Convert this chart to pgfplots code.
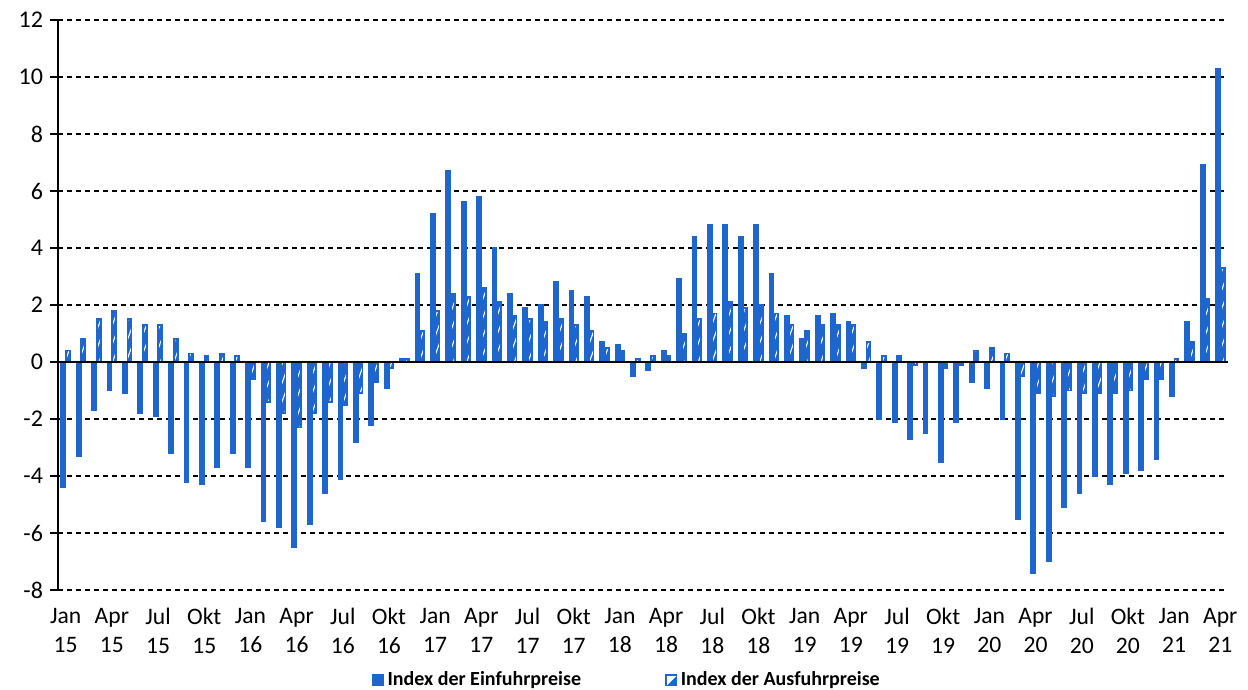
\documentclass[border=0pt]{standalone}
\usepackage{pgfplots}
\pgfplotsset{compat=1.18}
\usepackage{pgfplotstable}
\usepackage{fontspec}
\setmainfont{Carlito}
\usetikzlibrary{patterns.meta}
\definecolor{barblue}{RGB}{30,102,204}

\pgfplotstableread{
x imp exp
0 -4.4 0.4
1 -3.3 0.8
2 -1.7 1.5
3 -1.0 1.8
4 -1.1 1.5
5 -1.8 1.3
6 -1.9 1.3
7 -3.2 0.8
8 -4.2 0.3
9 -4.3 0.2
10 -3.7 0.3
11 -3.2 0.2
12 -3.7 -0.6
13 -5.6 -1.4
14 -5.8 -1.8
15 -6.5 -2.3
16 -5.7 -1.8
17 -4.6 -1.4
18 -4.1 -1.5
19 -2.8 -1.1
20 -2.2 -0.7
21 -0.9 -0.2
22 0.1 0.1
23 3.1 1.1
24 5.2 1.8
25 6.7 2.4
26 5.6 2.3
27 5.8 2.6
28 4.0 2.1
29 2.4 1.6
30 1.9 1.5
31 2.0 1.4
32 2.8 1.5
33 2.5 1.3
34 2.3 1.1
35 0.7 0.5
36 0.6 0.4
37 -0.5 0.1
38 -0.3 0.2
39 0.4 0.2
40 2.9 1.0
41 4.4 1.5
42 4.8 1.7
43 4.8 2.1
44 4.4 1.9
45 4.8 2.0
46 3.1 1.7
47 1.6 1.3
48 0.8 1.1
49 1.6 1.3
50 1.7 1.3
51 1.4 1.3
52 -0.2 0.7
53 -2.0 0.2
54 -2.1 0.2
55 -2.7 -0.1
56 -2.5 0.0
57 -3.5 -0.2
58 -2.1 -0.1
59 -0.7 0.4
60 -0.9 0.5
61 -2.0 0.3
62 -5.5 -0.5
63 -7.4 -1.1
64 -7.0 -1.2
65 -5.1 -1.0
66 -4.6 -1.1
67 -4.0 -1.1
68 -4.3 -1.1
69 -3.9 -1.0
70 -3.8 -0.6
71 -3.4 -0.6
72 -1.2 0.1
73 1.4 0.7
74 6.9 2.2
75 10.3 3.3
}\datatable

\begin{document}
\begin{tikzpicture}
\useasboundingbox (-29pt,-50pt) rectangle (595pt,295pt);
\begin{axis}[
  at={(0,0)}, anchor=south west,
  scale only axis, width=585pt, height=285pt,
  xmin=-0.5, xmax=75.5, ymin=-8, ymax=12,
  axis x line*=bottom, axis y line*=left,
  x axis line style={draw=none},
  y axis line style={black, line width=0.7pt},
  ytick={-8,-6,...,12},
  yticklabels={-8,-6,-4,-2,0,2,4,6,8,10,12},
  ymajorgrids,
  major grid style={black, dash pattern=on 2.5pt off 2pt, line width=0.6pt},
  tick align=outside,
  major tick length=4pt,
  ytick style={black, line width=0.6pt},
  xtick={0,3,...,75},
  xtick style={draw=none},
  xticklabels={{Jan\\15},{Apr\\15},{Jul\\15},{Okt\\15},
               {Jan\\16},{Apr\\16},{Jul\\16},{Okt\\16},
               {Jan\\17},{Apr\\17},{Jul\\17},{Okt\\17},
               {Jan\\18},{Apr\\18},{Jul\\18},{Okt\\18},
               {Jan\\19},{Apr\\19},{Jul\\19},{Okt\\19},
               {Jan\\20},{Apr\\20},{Jul\\20},{Okt\\20},
               {Jan\\21},{Apr\\21}},
  xticklabel style={align=center, yshift=-1.5pt, font=\fontsize{11.8}{14.5}\selectfont},
  yticklabel style={font=\fontsize{12}{14}\selectfont},
  legend columns=2,
  legend cell align=left,
  legend style={at={(0.487,-0.158)}, anchor=center, draw=none, fill=none,
    font=\bfseries\fontsize{10}{12}\selectfont,
    /tikz/every even column/.append style={column sep=40pt}},
]
\addplot[ybar, bar width=2pt, bar shift=-1.15pt, fill=barblue, draw=barblue, line width=0.9pt,
  legend image code/.code={\fill[barblue] (0pt,-2.5pt) rectangle (5pt,2.5pt);}]
  table[x=x,y=imp]{\datatable};
\addlegendentry{Index der Einfuhrpreise}
\addplot[ybar, bar width=2pt, bar shift=1.15pt, preaction={fill=barblue},
  pattern={Lines[angle=70,distance=3.2pt,line width=0.55pt]}, pattern color=white,
  draw=barblue, line width=0.9pt,
  legend image code/.code={\fill[barblue] (0pt,-2.5pt) rectangle (5pt,2.5pt);
    \fill[white] (1pt,-1.5pt) -- (4pt,1.5pt) -- (1pt,1.5pt) -- cycle;}]
  table[x=x,y=exp]{\datatable};
\addlegendentry{Index der Ausfuhrpreise}
\draw[black, line width=0.8pt] (axis cs:-0.5,0) -- (axis cs:75.5,0);
\end{axis}
\end{tikzpicture}
\end{document}
